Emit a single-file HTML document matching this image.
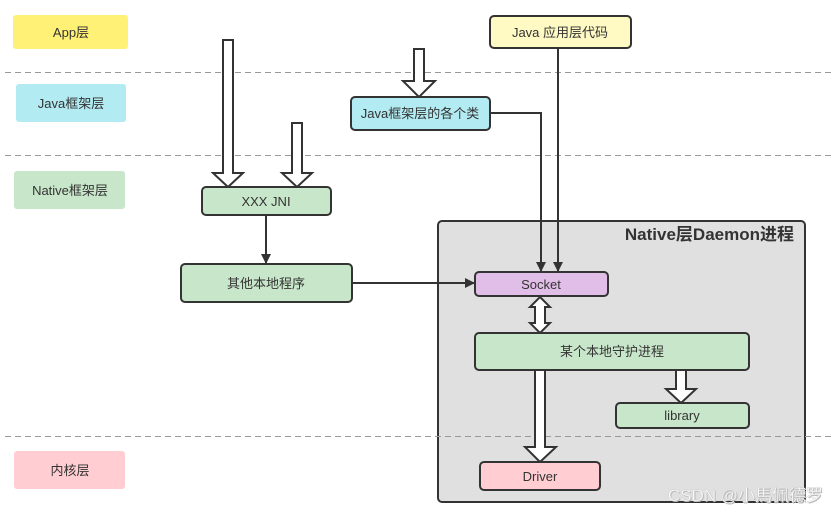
<!DOCTYPE html>
<html><head><meta charset="utf-8"><style>
html,body{margin:0;padding:0;background:#fff;}
svg{display:block;font-family:"Liberation Sans","Noto Sans CJK SC",sans-serif;}
</style></head><body>
<svg width="837" height="512" viewBox="0 0 837 512" xmlns="http://www.w3.org/2000/svg">
<defs>
<marker id="a" markerWidth="10" markerHeight="10" refX="9" refY="5" orient="auto" markerUnits="userSpaceOnUse">
<path d="M0,0 L10,5 L0,10 Z" fill="#333"/></marker>
</defs>
<g stroke="#999" stroke-width="1" stroke-dasharray="6,4">
<line x1="5" y1="72.5" x2="835" y2="72.5"/>
<line x1="5" y1="155.5" x2="835" y2="155.5"/>
</g>
<!-- left layer labels -->
<rect x="13" y="15" width="115" height="34" rx="3" fill="#fff176"/>
<rect x="16" y="84" width="110" height="38" rx="3" fill="#b2ebf2"/>
<rect x="14" y="171" width="111" height="38" rx="3" fill="#c8e6c9"/>
<rect x="14" y="451" width="111" height="38" rx="3" fill="#ffcdd2"/>
<g font-size="13" fill="#333" text-anchor="middle">
<text x="71" y="37">App层</text>
<text x="71" y="108">Java框架层</text>
<text x="70" y="195">Native框架层</text>
<text x="70" y="475">内核层</text>
</g>
<!-- daemon container -->
<rect x="438" y="221" width="367" height="281" rx="4" fill="#e0e0e0" stroke="#333" stroke-width="2"/>
<line x1="5" y1="436.5" x2="835" y2="436.5" stroke="#999" stroke-width="1" stroke-dasharray="6,4"/>
<text x="794" y="240" font-size="17" font-weight="bold" fill="#333" text-anchor="end">Native层Daemon进程</text>
<!-- thin connectors -->
<g stroke="#333" stroke-width="2" fill="none">
<line x1="558" y1="48" x2="558" y2="271" marker-end="url(#a)"/>
<polyline points="490,113 541,113 541,271" marker-end="url(#a)"/>
<line x1="266" y1="215" x2="266" y2="263" marker-end="url(#a)"/>
<line x1="352" y1="283" x2="474" y2="283" marker-end="url(#a)"/>
</g>
<!-- hollow arrows -->
<g fill="#fff" stroke="#333" stroke-width="2" stroke-linejoin="miter">
<path d="M223,40 H233 V173 H243 L228,187 L213,173 H223 Z"/>
<path d="M292,123 H302 V173 H312 L297,187 L282,173 H292 Z"/>
<path d="M414,49 H424 V81 H435 L419,97 L403,81 H414 Z"/>
<path d="M540,297 L550,307 H545 V323 H550 L540,333 L530,323 H535 V307 H530 Z"/>
<path d="M535,370 H545 V447 H556 L540,462 L525,447 H535 Z"/>
<path d="M676,370 H686 V389 H696 L681,403 L666,389 H676 Z"/>
</g>
<!-- nodes -->
<g stroke="#333" stroke-width="2">
<rect x="490" y="16" width="141" height="32" rx="4" fill="#fff9c4"/>
<rect x="351" y="97" width="139" height="33" rx="4" fill="#b2ebf2"/>
<rect x="202" y="187" width="129" height="28" rx="4" fill="#c8e6c9"/>
<rect x="181" y="264" width="171" height="38" rx="4" fill="#c8e6c9"/>
<rect x="475" y="272" width="133" height="24" rx="4" fill="#e1bee7"/>
<rect x="475" y="333" width="274" height="37" rx="4" fill="#c8e6c9"/>
<rect x="616" y="403" width="133" height="25" rx="4" fill="#c8e6c9"/>
<rect x="480" y="462" width="120" height="28" rx="4" fill="#ffcdd2"/>
</g>
<g font-size="13" fill="#333" text-anchor="middle">
<text x="560" y="37">Java 应用层代码</text>
<text x="420" y="118">Java框架层的各个类</text>
<text x="266" y="206">XXX JNI</text>
<text x="266" y="288">其他本地程序</text>
<text x="541" y="289">Socket</text>
<text x="612" y="356">某个本地守护进程</text>
<text x="682" y="420">library</text>
<text x="540" y="481">Driver</text>
</g>
<text x="824" y="502" font-size="17" fill="#bbb" text-anchor="end">CSDN @小馬佩德罗</text>
<text x="823" y="501" font-size="17" fill="#fff" stroke="#c8c8c8" stroke-width="0.4" text-anchor="end">CSDN @小馬佩德罗</text>
</svg>
</body></html>
